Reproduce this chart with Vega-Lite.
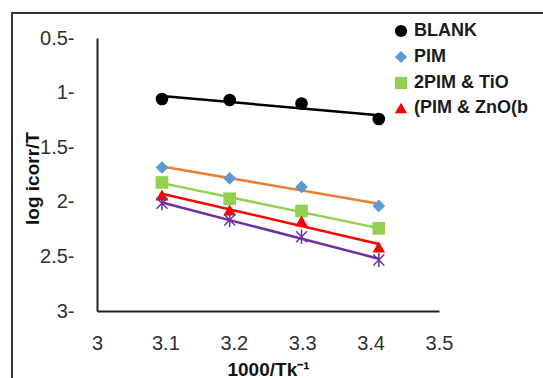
{
  "$schema": "https://vega.github.io/schema/vega-lite/v6.json",
  "width": 533,
  "height": 367,
  "autosize": {"type": "none"},
  "padding": {"left": 12, "top": 13, "right": -2, "bottom": -2},
  "background": "#ffffff",
  "config": {
    "view": {"stroke": "#333333", "strokeWidth": 2},
    "font": "Liberation Sans"
  },
  "data": {
    "values": [
      {"series": "BLANK", "x": 3.095, "y": 1.059},
      {"series": "BLANK", "x": 3.194, "y": 1.068},
      {"series": "BLANK", "x": 3.299, "y": 1.100},
      {"series": "BLANK", "x": 3.412, "y": 1.242},
      {"series": "PIM", "x": 3.095, "y": 1.686},
      {"series": "PIM", "x": 3.194, "y": 1.785},
      {"series": "PIM", "x": 3.299, "y": 1.864},
      {"series": "PIM", "x": 3.412, "y": 2.038},
      {"series": "2PIM & TiO", "x": 3.095, "y": 1.823},
      {"series": "2PIM & TiO", "x": 3.194, "y": 1.972},
      {"series": "2PIM & TiO", "x": 3.299, "y": 2.084},
      {"series": "2PIM & TiO", "x": 3.412, "y": 2.243},
      {"series": "(PIM & ZnO(b", "x": 3.095, "y": 1.938},
      {"series": "(PIM & ZnO(b", "x": 3.194, "y": 2.075},
      {"series": "(PIM & ZnO(b", "x": 3.299, "y": 2.176},
      {"series": "(PIM & ZnO(b", "x": 3.412, "y": 2.414},
      {"series": "(PIM & ZnO(a", "x": 3.095, "y": 2.014},
      {"series": "(PIM & ZnO(a", "x": 3.194, "y": 2.167},
      {"series": "(PIM & ZnO(a", "x": 3.299, "y": 2.320},
      {"series": "(PIM & ZnO(a", "x": 3.412, "y": 2.533}
    ]
  },
  "encoding": {
    "x": {
      "field": "x", "type": "quantitative",
      "scale": {"domain": [3, 3.5], "range": [85, 427], "nice": false, "zero": false},
      "axis": {
        "orient": "bottom", "offset": -69,
        "values": [3, 3.1, 3.2, 3.3, 3.4, 3.5],
        "labelExpr": "datum.value + ''",
        "grid": false, "ticks": false, "tickSize": 0,
        "domainColor": "#222222", "domainWidth": 2,
        "labelFont": "Liberation Sans", "labelFontSize": 20, "labelColor": "#303030",
        "labelPadding": 22, "labelFlush": false, "labelOverlap": false,
        "title": "1000/Tk⁻¹",
        "titleFont": "Liberation Sans", "titleFontSize": 19, "titleFontWeight": "bold", "titleColor": "#111111",
        "titleBaseline": "alphabetic", "titleY": 64
      }
    },
    "y": {
      "field": "y", "type": "quantitative",
      "scale": {"domain": [0.5, 3], "range": [25, 298], "nice": false, "zero": false},
      "axis": {
        "orient": "left", "offset": -85,
        "values": [0.5, 1, 1.5, 2, 2.5, 3],
        "labelExpr": "datum.value + '-'",
        "grid": false, "ticks": false, "tickSize": 0,
        "domainColor": "#222222", "domainWidth": 2,
        "labelFont": "Liberation Sans", "labelFontSize": 20, "labelColor": "#303030",
        "labelPadding": 23, "labelOverlap": false, "labelFlush": false,
        "title": "log icorr/T",
        "titleFont": "Liberation Sans", "titleFontSize": 19, "titleFontWeight": "bold", "titleColor": "#111111",
        "titleBaseline": "middle", "titleX": -65, "titleY": 165
      }
    }
  },
  "layer": [
    {
      "transform": [{"regression": "y", "on": "x", "groupby": ["series"]}],
      "mark": {"type": "line", "strokeWidth": 2.5},
      "encoding": {
        "stroke": {
          "field": "series", "type": "nominal",
          "scale": {
            "domain": ["BLANK", "PIM", "2PIM & TiO", "(PIM & ZnO(b", "(PIM & ZnO(a"],
            "range": ["#000000", "#ED7D31", "#92D050", "#FF0000", "#7030A0"]
          },
          "legend": null
        }
      }
    },
    {
      "transform": [{"filter": "datum.series !== '(PIM & ZnO(a'"}],
      "mark": {"type": "point", "filled": true, "opacity": 1},
      "encoding": {
        "color": {
          "field": "series", "type": "nominal",
          "scale": {
            "domain": ["BLANK", "PIM", "2PIM & TiO", "(PIM & ZnO(b"],
            "range": ["#000000", "#5B9BD5", "#92D050", "#FF0000"]
          },
          "legend": {
            "title": null, "orient": "none", "legendX": 380, "legendY": 9,
            "padding": 0, "symbolSize": 150, "symbolOffset": 0, "rowPadding": 6,
            "labelOffset": 4, "labelFont": "Liberation Sans", "labelFontSize": 18,
            "labelFontWeight": "bold", "labelColor": "#1a1a1a", "labelLimit": 300,
            "symbolOpacity": 1
          }
        },
        "shape": {
          "field": "series", "type": "nominal",
          "scale": {
            "domain": ["BLANK", "PIM", "2PIM & TiO", "(PIM & ZnO(b"],
            "range": ["circle", "diamond", "square", "triangle-up"]
          },
          "legend": {
            "title": null, "orient": "none", "legendX": 380, "legendY": 9,
            "padding": 0, "symbolSize": 150, "symbolOffset": 0, "rowPadding": 6,
            "labelOffset": 4, "labelFont": "Liberation Sans", "labelFontSize": 18,
            "labelFontWeight": "bold", "labelColor": "#1a1a1a", "labelLimit": 300,
            "symbolOpacity": 1
          }
        },
        "size": {"value": 160}
      }
    },
    {
      "transform": [{"filter": "datum.series === '(PIM & ZnO(a'"}],
      "mark": {
        "type": "point", "filled": false, "opacity": 1, "color": "#7030A0", "strokeWidth": 1.5,
        "shape": "M-1,-1L1,1M-1,1L1,-1M0,-1.3L0,1.3", "size": 120
      }
    }
  ]
}
